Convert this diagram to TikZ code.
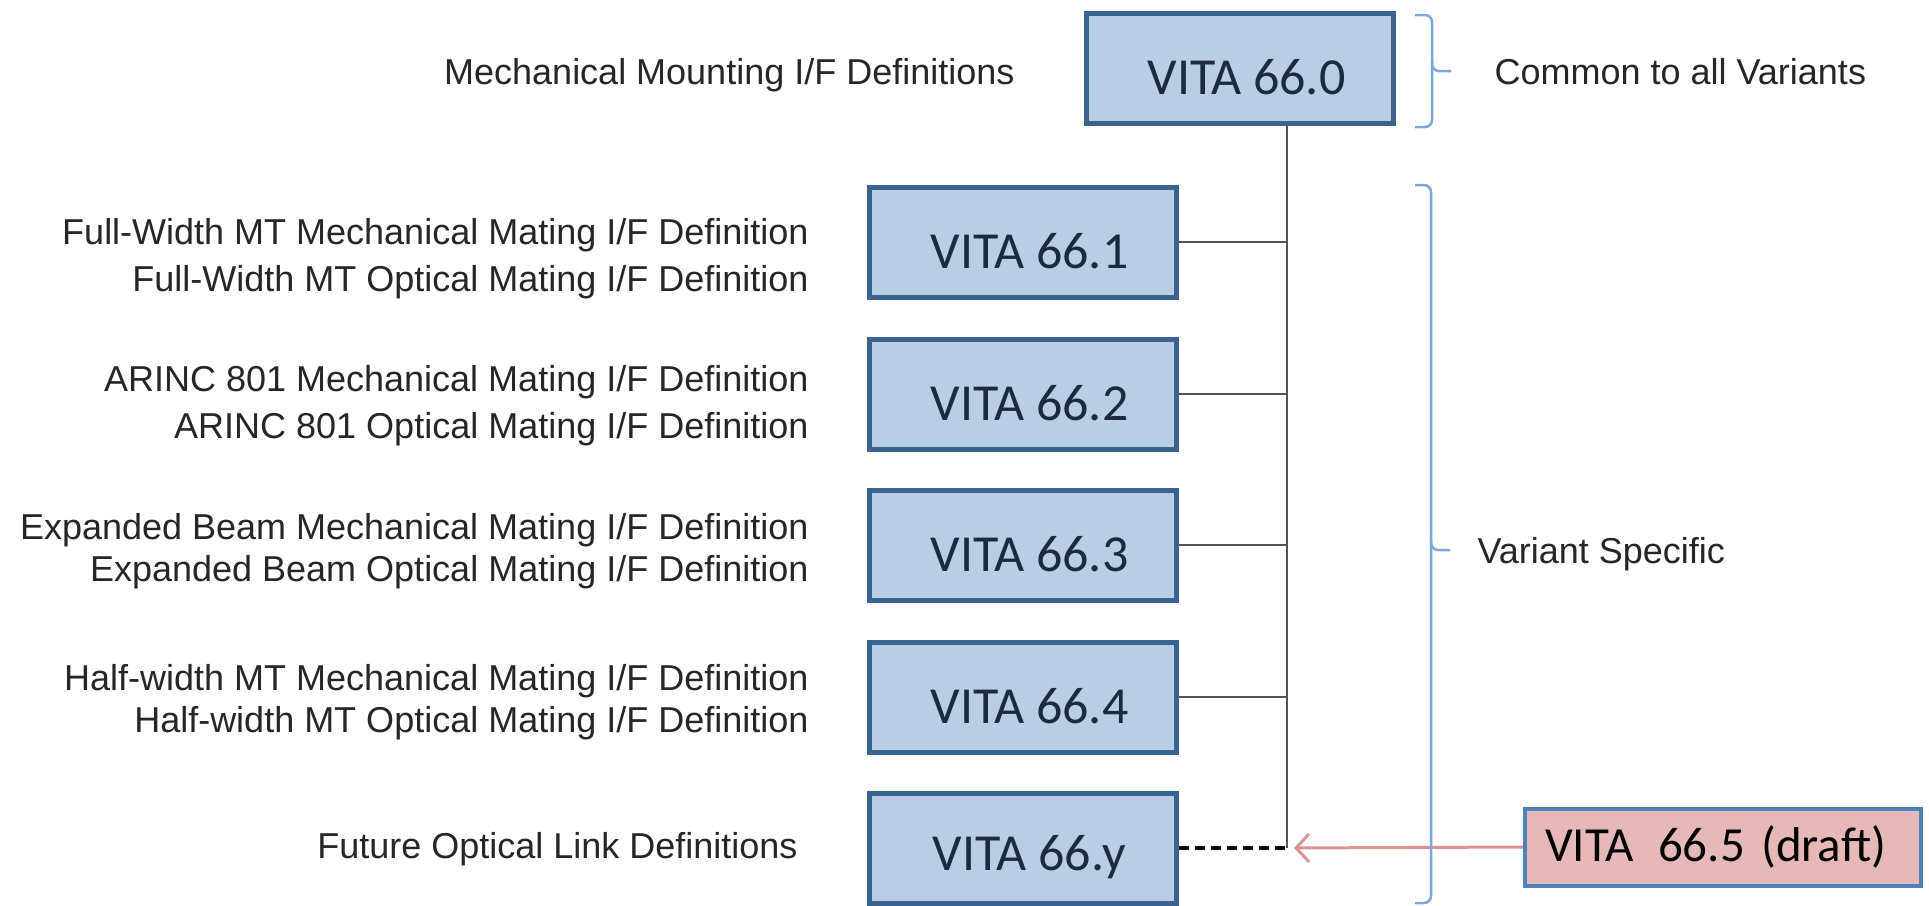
\documentclass[tikz,border=0pt]{standalone}
\usepackage{fontspec}
\setmainfont{Liberation Sans}
\newfontfamily\boxfont{Carlito}
\usetikzlibrary{positioning, arrows.meta}

\definecolor{boxfill}{HTML}{B9CDE5}
\definecolor{boxline}{HTML}{3A6391}
\definecolor{boxtext}{HTML}{1B2A41}
\definecolor{bracecol}{HTML}{7BA7DC}
\definecolor{draftfill}{HTML}{E6B9B8}
\definecolor{draftline}{HTML}{4F81BD}
\definecolor{arrowcol}{HTML}{D99694}
\definecolor{trunkcol}{HTML}{555555}

\tikzset{
  vita/.style={draw=boxline, line width=5pt, fill=boxfill, minimum width=307pt,
    minimum height=110pt, text=boxtext, text height=52pt, text depth=0pt,
    execute at begin node=\hspace*{13pt},
    font=\boxfont\fontsize{52}{60}\selectfont},
  draft/.style={draw=draftline, line width=4pt, fill=draftfill, text width=356pt,
    inner xsep=20pt, minimum height=77pt, align=left,
    font=\boxfont\fontsize{49}{58}\selectfont},
  desc/.style={align=right, text=black!85, font=\fontsize{36}{47}\selectfont},
  tight/.style={font=\fontsize{36}{42}\selectfont},
  link/.style={draw=trunkcol, line width=2.5pt},
  curly/.style={draw=bracecol, line width=2.5pt, rounded corners=7pt},
}

\begin{document}
\begin{tikzpicture}[x=1pt, y=-1pt]
            \useasboundingbox (0,0) rectangle (1929,905);

            %Nodes
            \node[vita] at (1240,68) (b0) {VITA 66.0};
            \node[vita] at (1023,242) (b1) {VITA 66.1};
            \node[vita] at (1023,394) (b2) {VITA 66.2};
            \node[vita] at (1023,545) (b3) {VITA 66.3};
            \node[vita] at (1023,697) (b4) {VITA 66.4};
            \node[vita, text height=44pt] at (1023,848) (by) {VITA 66.y};
            \node[draft] at (1723,847) (d5) {VITA~\,66.5 (draft)};
            \coordinate (bus) at (1287,848);

            %Labels
            \node[desc, left=66pt of b0, yshift=-7pt] (l0) {Mechanical Mounting I/F Definitions};
            \node[desc, left=55pt of b1, yshift=-17pt] (l1) {Full-Width MT Mechanical Mating I/F Definition\\Full-Width MT Optical Mating I/F Definition};
            \node[desc, left=55pt of b2, yshift=-12pt] (l2) {ARINC 801 Mechanical Mating I/F Definition\\ARINC 801 Optical Mating I/F Definition};
            \node[desc, tight, left=55pt of b3, yshift=-6pt] (l3) {Expanded Beam Mechanical Mating I/F Definition\\Expanded Beam Optical Mating I/F Definition};
            \node[desc, tight, left=55pt of b4, yshift=-5pt] (l4) {Half-width MT Mechanical Mating I/F Definition\\Half-width MT Optical Mating I/F Definition};
            \node[desc, left=66pt of by, yshift=-1pt] (ly) {Future Optical Link Definitions};
            \node[desc, anchor=west] at (1491,72) (c0) {Common to all Variants};
            \node[desc, anchor=west] at (1474,554) (vs) {Variant Specific};

            %Lines
            \draw[link] (b0.south -| bus) -- (bus);
            \foreach \b in {b1,b2,b3,b4}
                \draw[link] (\b.east) -- (\b.east -| bus);
            \draw[line width=4pt, dash pattern=on 10pt off 6pt] (by.east) -- (bus);
            \draw[arrowcol, line width=3pt, shorten >=7pt,
                -{Straight Barb[length=13pt, width=28pt]}] (d5.west) -- (bus);

            %Braces
            \draw[curly] (1415,15) -- (1432,15) -- (1432,71) -- (1451,71);
            \draw[curly] (1432,60) -- (1432,127) -- (1415,127);
            \draw[curly] (1415,185) -- (1431,185) -- (1431,550) -- (1450,550);
            \draw[curly] (1431,540) -- (1431,903) -- (1415,903);
\end{tikzpicture}
\end{document}
